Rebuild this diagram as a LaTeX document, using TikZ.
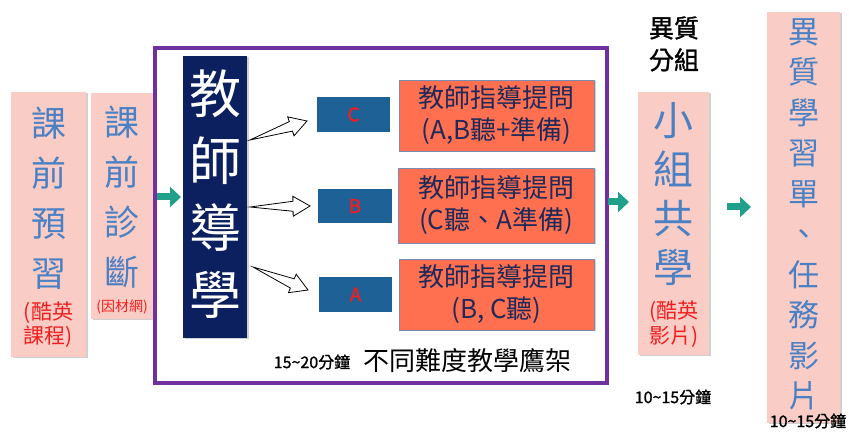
\documentclass[tikz,border=0pt]{standalone}
\usepackage{fontspec}
\setmainfont{Noto Sans CJK TC}
\newfontfamily\cjkbold{Noto Sans CJK TC}[FakeBold=1.2]
\usetikzlibrary{arrows.meta,calc,shadows}
\definecolor{pinkfill}{HTML}{F9CCC5}
\definecolor{bluetext}{HTML}{4A80C4}
\definecolor{redtext}{HTML}{F01E1E}
\definecolor{navy}{HTML}{0C1F5E}
\definecolor{rectblue}{HTML}{1D6196}
\definecolor{orangefill}{HTML}{FF7050}
\definecolor{orangeline}{HTML}{7A8CB4}
\definecolor{navytext}{HTML}{1F2A5A}
\definecolor{tealarrow}{HTML}{20A08A}
\definecolor{purpleline}{HTML}{7030A0}
\tikzset{
  softshadow/.style={drop shadow={shadow xshift=1.5pt,shadow yshift=-1.5pt,opacity=0.3,fill=black!60}},
  pinkbox/.style={fill=pinkfill,draw=none,inner sep=0pt,softshadow},
  navybox/.style={fill=navy,draw=none,inner sep=0pt,softshadow},
  levelbox/.style={fill=rectblue,draw=none,inner sep=0pt,minimum height=35pt,
     text=redtext,font=\cjkbold\fontsize{19}{20}\selectfont},
  askbox/.style={fill=orangefill,draw=orangeline,line width=0.8pt,inner sep=0pt,
     minimum width=195pt,align=center,text=navytext,
     font=\fontsize{26}{32}\selectfont,softshadow},
  stacktext/.style={align=center,inner sep=0pt},
  tealarr/.style={draw=tealarrow,line width=7pt,-{Triangle[width=20pt,length=11pt]}},
  openarr/.style={draw=black,line width=0.8pt,fill=white,line join=miter},
}
\newcommand\openarrow[2]{%
  \coordinate (hb) at ($(#2)!17pt!(#1)$);
  \draw[openarr] (#1) -- ($(hb)!5pt!90:(#2)$) -- ($(hb)!10pt!90:(#2)$) -- (#2)
     -- ($(hb)!10pt!-90:(#2)$) -- ($(hb)!5pt!-90:(#2)$) -- cycle;}
\begin{document}
\begin{tikzpicture}[x=1pt,y=-1pt]
\useasboundingbox (0,0) rectangle (849,435);
\fill[white] (0,0) rectangle (849,435);

% left boxes
\node[pinkbox,minimum width=75pt,minimum height=265pt] (pre) at (48.5,224.5) {};
\node[stacktext,text=bluetext,font=\fontsize{35}{50}\selectfont] (preT) at (48.5,198) {課\\前\\預\\習};
\node[stacktext,text=redtext,font=\fontsize{21}{24}\selectfont] (preR) at (48.5,325) {(酷英\\課程)};

\node[pinkbox,minimum width=62pt,minimum height=226pt] (diag) at (122,206) {};
\node[stacktext,text=bluetext,font=\fontsize{35}{50}\selectfont] (diagT) at (122,197.5) {課\\前\\診\\斷};
\node[stacktext,text=redtext,font=\fontsize{14}{16}\selectfont] (diagR) at (122,307) {(因材網)};

% purple frame
\node[draw=purpleline,line width=4pt,fill=white,inner sep=0pt,minimum width=452pt,minimum height=335pt] (frame) at (381,215.5) {};

% teacher box
\node[navybox,minimum width=64pt,minimum height=282pt] (teach) at (215,197) {};
\node[stacktext,text=white,font=\fontsize{52}{67}\selectfont] (teachT) at (215,194) {教\\師\\導\\學};

% level boxes
\node[levelbox,minimum width=73pt] (lc) at (353.5,114.5) {C};
\node[levelbox,minimum width=74pt,minimum height=34pt] (lb) at (355,206) {B};
\node[levelbox,minimum width=73pt] (la) at (355.5,294.5) {A};

% question boxes
\node[askbox,minimum height=71pt] (q1) at (496.5,115.5) {教師指導提問\\(A,B聽+準備)};
\node[askbox,minimum width=196pt,minimum height=75pt] (q2) at (496,205.5) {教師指導提問\\(C聽、A準備)};
\node[askbox,minimum height=71pt] (q3) at (496.5,294.5) {教師指導提問\\(B, C聽)};

% open block arrows
\coordinate (c1) at (250,140); \coordinate (c2) at (307,121);
\coordinate (b1) at (250,207); \coordinate (b2) at (310,206);
\coordinate (a1) at (253,267); \coordinate (a2) at (308,290);
\openarrow{c1}{c2}
\openarrow{b1}{b2}
\openarrow{a1}{a2}

% bottom labels in frame
\node[inner sep=0pt,font=\cjkbold\fontsize{16}{18}\selectfont] (time1) at (312,362) {15\textasciitilde20分鐘};
\node[inner sep=0pt,font=\fontsize{26}{28}\selectfont] (scaf) at (467.5,361) {不同難度教學鷹架};

% group study
\node[stacktext,font=\cjkbold\fontsize{25}{32}\selectfont] (hetero) at (674,44) {異質\\分組};
\node[pinkbox,minimum width=71pt,minimum height=263pt] (group) at (673.5,223.5) {};
\node[stacktext,text=bluetext,font=\fontsize{40}{49}\selectfont] (groupT) at (673.5,194) {小\\組\\共\\學};
\node[stacktext,text=redtext,font=\fontsize{21}{25}\selectfont] (groupR) at (674,324.5) {(酷英\\影片)};
\node[inner sep=0pt,font=\cjkbold\fontsize{16}{18}\selectfont] (time2) at (673,397) {10\textasciitilde15分鐘};

% worksheet
\node[pinkbox,minimum width=73pt,minimum height=411pt] (sheet) at (803.5,217.5) {};
\node[stacktext,text=bluetext,font=\fontsize{31}{40.5}\selectfont] (sheetT) at (803.5,214.5) {異\\質\\學\\習\\單\\、\\任\\務\\影\\片};
\node[inner sep=0pt,font=\cjkbold\fontsize{16}{18}\selectfont] (time3) at (808,421) {10\textasciitilde15分鐘};

% teal arrows
\coordinate (t1s) at (157,197); \coordinate (t1e) at (181,197);
\coordinate (t2s) at (608,202); \coordinate (t2e) at (629,202);
\coordinate (t3s) at (727,207); \coordinate (t3e) at (751,207);
\draw[tealarr] (t1s) -- (t1e);
\draw[tealarr] (t2s) -- (t2e);
\draw[tealarr] (t3s) -- (t3e);
\end{tikzpicture}
\end{document}
